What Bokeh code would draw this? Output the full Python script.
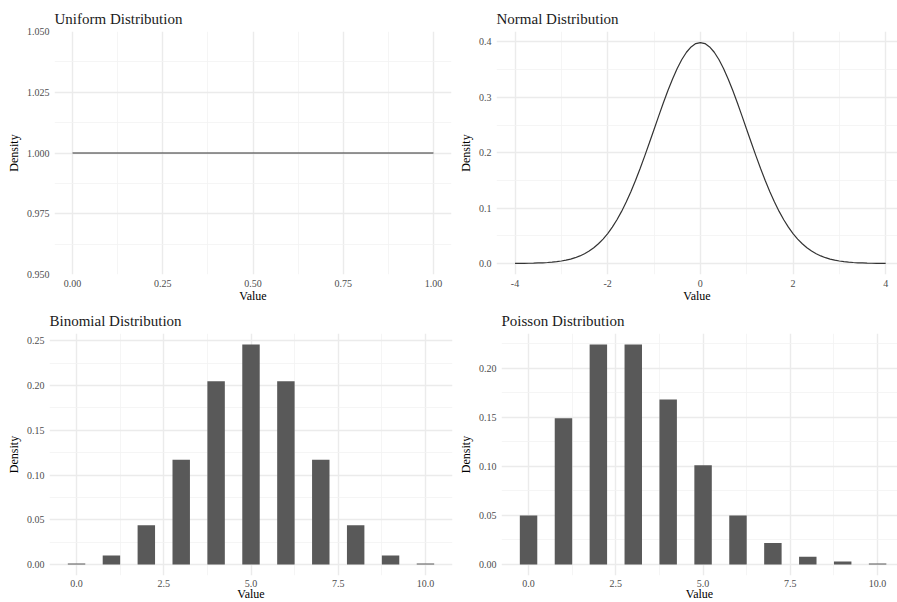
from bokeh.plotting import figure
from bokeh.layouts import row, column
from bokeh.models import FixedTicker, PrintfTickFormatter, Range1d
from bokeh.embed import file_html
from bokeh.resources import INLINE

# ---------------- data ----------------
uniform_x = [0.0, 1.0]
uniform_y = [1.0, 1.0]

normal_x = [-4.0, -3.9, -3.8, -3.7, -3.6, -3.5, -3.4, -3.3, -3.2, -3.1,
            -3.0, -2.9, -2.8, -2.7, -2.6, -2.5, -2.4, -2.3, -2.2, -2.1,
            -2.0, -1.9, -1.8, -1.7, -1.6, -1.5, -1.4, -1.3, -1.2, -1.1,
            -1.0, -0.9, -0.8, -0.7, -0.6, -0.5, -0.4, -0.3, -0.2, -0.1,
            0.0, 0.1, 0.2, 0.3, 0.4, 0.5, 0.6, 0.7, 0.8, 0.9,
            1.0, 1.1, 1.2, 1.3, 1.4, 1.5, 1.6, 1.7, 1.8, 1.9,
            2.0, 2.1, 2.2, 2.3, 2.4, 2.5, 2.6, 2.7, 2.8, 2.9,
            3.0, 3.1, 3.2, 3.3, 3.4, 3.5, 3.6, 3.7, 3.8, 3.9, 4.0]
normal_y = [0.0001, 0.0002, 0.0003, 0.0004, 0.0006, 0.0009, 0.0012, 0.0017, 0.0024, 0.0033,
            0.0044, 0.0060, 0.0079, 0.0104, 0.0136, 0.0175, 0.0224, 0.0283, 0.0355, 0.0440,
            0.0540, 0.0656, 0.0790, 0.0940, 0.1109, 0.1295, 0.1497, 0.1714, 0.1942, 0.2179,
            0.2420, 0.2661, 0.2897, 0.3123, 0.3332, 0.3521, 0.3683, 0.3814, 0.3910, 0.3970,
            0.3989, 0.3970, 0.3910, 0.3814, 0.3683, 0.3521, 0.3332, 0.3123, 0.2897, 0.2661,
            0.2420, 0.2179, 0.1942, 0.1714, 0.1497, 0.1295, 0.1109, 0.0940, 0.0790, 0.0656,
            0.0540, 0.0440, 0.0355, 0.0283, 0.0224, 0.0175, 0.0136, 0.0104, 0.0079, 0.0060,
            0.0044, 0.0033, 0.0024, 0.0017, 0.0012, 0.0009, 0.0006, 0.0004, 0.0003, 0.0002, 0.0001]

binom_x = [0, 1, 2, 3, 4, 5, 6, 7, 8, 9, 10]
binom_y = [0.001, 0.010, 0.044, 0.117, 0.205, 0.246, 0.205, 0.117, 0.044, 0.010, 0.001]

pois_x = [0, 1, 2, 3, 4, 5, 6, 7, 8, 9, 10]
pois_y = [0.050, 0.149, 0.224, 0.224, 0.168, 0.101, 0.050, 0.022, 0.008, 0.003, 0.001]

# tick positions
uni_xticks = [0.0, 0.25, 0.5, 0.75, 1.0]
uni_xminor = [0.125, 0.375, 0.625, 0.875]
uni_yticks = [0.95, 0.975, 1.0, 1.025, 1.05]
uni_yminor = [0.9625, 0.9875, 1.0125, 1.0375]

norm_xticks = [-4, -2, 0, 2, 4]
norm_xminor = [-3, -1, 1, 3]
norm_yticks = [0.0, 0.1, 0.2, 0.3, 0.4]
norm_yminor = [0.05, 0.15, 0.25, 0.35]

bar_xticks = [0.0, 2.5, 5.0, 7.5, 10.0]
bar_xminor = [1.25, 3.75, 6.25, 8.75]
binom_yticks = [0.0, 0.05, 0.10, 0.15, 0.20, 0.25]
binom_yminor = [0.025, 0.075, 0.125, 0.175, 0.225]
pois_yticks = [0.0, 0.05, 0.10, 0.15, 0.20]
pois_yminor = [0.025, 0.075, 0.125, 0.175, 0.225]

FONT = "Liberation Serif"
BAR_COLOR = "#595959"
LINE_COLOR = "#333333"


def make_fig(title, frame_w, frame_h, bl, br, bt, bb, xr, yr,
             xt, xm, yt, ym, xfmt, yfmt, x_lab_standoff, x_title_standoff):
    p = figure(frame_width=frame_w, frame_height=frame_h,
               min_border_left=bl, min_border_right=br,
               min_border_top=bt, min_border_bottom=bb,
               x_range=Range1d(*xr), y_range=Range1d(*yr),
               output_backend="svg", toolbar_location=None,
               title=title)
    p.outline_line_color = None
    p.background_fill_color = "white"
    p.border_fill_color = "white"
    p.title.text_font = FONT
    p.title.text_font_size = "15px"
    p.title.text_font_style = "normal"
    p.title.text_color = "#1a1a1a"
    p.title.align = "left"
    p.title.standoff = 10
    p.title.offset = 0
    p.xaxis.ticker = FixedTicker(ticks=xt, minor_ticks=xm)
    p.yaxis.ticker = FixedTicker(ticks=yt, minor_ticks=ym)
    p.xaxis.formatter = PrintfTickFormatter(format=xfmt)
    p.yaxis.formatter = PrintfTickFormatter(format=yfmt)
    p.xaxis.axis_label = "Value"
    p.yaxis.axis_label = "Density"
    for ax in (p.xaxis[0], p.yaxis[0]):
        ax.axis_line_color = None
        ax.major_tick_line_color = None
        ax.minor_tick_line_color = None
        ax.major_tick_out = 0
        ax.major_tick_in = 0
        ax.minor_tick_out = 0
        ax.minor_tick_in = 0
        ax.major_label_text_font = FONT
        ax.major_label_text_font_size = "10px"
        ax.major_label_text_color = "#4d4d4d"
        ax.axis_label_text_font = FONT
        ax.axis_label_text_font_size = "12px"
        ax.axis_label_text_font_style = "normal"
        ax.axis_label_text_color = "#000000"
    p.xaxis.major_label_standoff = x_lab_standoff
    p.xaxis.axis_label_standoff = x_title_standoff
    p.yaxis.major_label_standoff = 5
    p.yaxis.axis_label_standoff = 3
    for g in (p.xgrid[0], p.ygrid[0]):
        g.grid_line_color = "#ebebeb"
        g.grid_line_width = 1.4
        g.minor_grid_line_color = "#f2f2f2"
        g.minor_grid_line_width = 0.8
    return p


# Uniform
p1 = make_fig("Uniform Distribution", 397, 243, 54, 4, 31, 30,
              (-0.05, 1.05), (0.95, 1.05),
              uni_xticks, uni_xminor, uni_yticks, uni_yminor, "%.2f", "%.3f", 5, -1)
p1.line(uniform_x, uniform_y, line_color=LINE_COLOR, line_width=1.2)

# Normal
nmax = max(normal_y)
p2 = make_fig("Normal Distribution", 401, 243, 41, 0, 31, 30,
              (-4.4, 4.255), (-0.05 * nmax, 1.05 * nmax),
              norm_xticks, norm_xminor, norm_yticks, norm_yminor, "%d", "%.1f", 5, -1)
p2.line(normal_x, normal_y, line_color=LINE_COLOR, line_width=1.2)

# Binomial
bmax = max(binom_y)
p3 = make_fig("Binomial Distribution", 403, 242, 49, 3, 28, 27,
              (-0.775, 10.775), (-0.05 * bmax, 1.05 * bmax),
              bar_xticks, bar_xminor, binom_yticks, binom_yminor, "%.1f", "%.2f", 4, -3)
p3.vbar(x=binom_x, top=binom_y, bottom=0, width=0.5,
        fill_color=BAR_COLOR, line_color=None)

# Poisson
pmax = max(pois_y)
p4 = make_fig("Poisson Distribution", 396, 242, 46, 0, 28, 27,
              (-0.775, 10.57), (-0.05 * pmax, 1.05 * pmax),
              bar_xticks, bar_xminor, pois_yticks, pois_yminor, "%.1f", "%.2f", 4, -3)
p4.vbar(x=pois_x, top=pois_y, bottom=0, width=0.5,
        fill_color=BAR_COLOR, line_color=None)

layout = column(row(p1, p2), row(p3, p4))

open("out.html", "w").write(file_html(layout, INLINE))
